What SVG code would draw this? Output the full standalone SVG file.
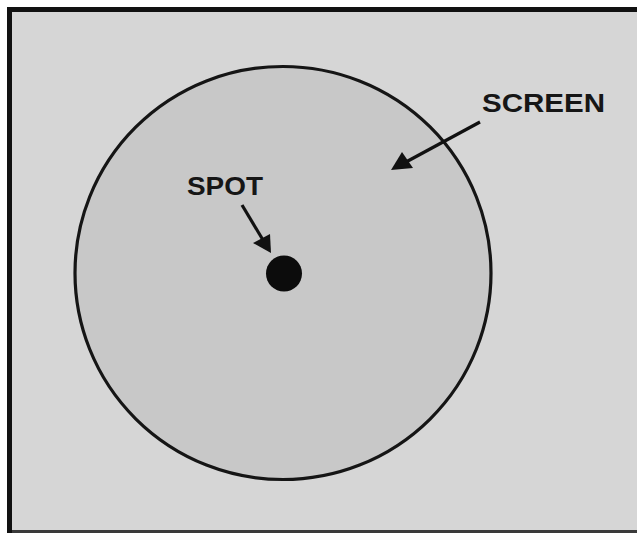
<svg xmlns="http://www.w3.org/2000/svg" width="637" height="533" viewBox="0 0 637 533">
<defs>
<style>
.lbl{font-family:"Liberation Sans",Arial,sans-serif;font-weight:bold;font-size:25px;fill:#161616}
.conn{stroke:#111;stroke-width:3.2;fill:none}
</style>
<marker id="ah" viewBox="0 0 10 10" refX="9" refY="5" markerWidth="8" markerHeight="8" markerUnits="userSpaceOnUse" orient="auto">
<path d="M0,0 L10,5 L0,10 z" fill="#111"/>
</marker>
<marker id="ah2" viewBox="0 0 10 10" refX="9" refY="5" markerWidth="7" markerHeight="7" orient="auto">
<path d="M0,0 L10,5 L0,10 z" fill="#111"/>
</marker>
</defs>
<rect x="0" y="0" width="637" height="533" fill="#ffffff"/>
<rect x="7" y="7" width="640" height="526" fill="#111"/>
<rect x="12" y="12" width="630" height="518" fill="#d6d6d6"/>
<rect x="12" y="530" width="630" height="3" fill="#3a3a3a"/>
<g id="screen">
<ellipse cx="283" cy="273" rx="208" ry="206.5" fill="#c8c8c8" stroke="#151515" stroke-width="3.2"/>
<text class="lbl" x="482" y="112" textLength="123" lengthAdjust="spacingAndGlyphs">SCREEN</text>
</g>
<g id="spot">
<circle cx="284" cy="273.5" r="18" fill="#0c0c0c"/>
<text class="lbl" x="187" y="195" textLength="76" lengthAdjust="spacingAndGlyphs">SPOT</text>
</g>
<g id="connectors">
<line class="conn" x1="480" y1="122" x2="406" y2="162"/>
<path d="M391,170 L402,152 L413,168 z" fill="#111"/>
<line class="conn" x1="242" y1="205" x2="263" y2="240"/>
<path d="M271,253 L253,243 L270,234 z" fill="#111"/>
</g>
</svg>
